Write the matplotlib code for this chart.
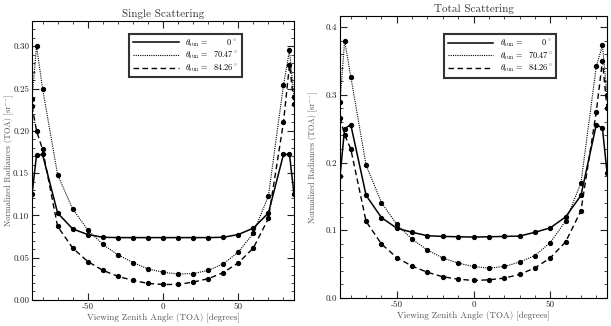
import numpy as np
import matplotlib.pyplot as plt

plt.rcParams['font.family'] = ['cmr10', 'DejaVu Serif']
plt.rcParams['mathtext.fontset'] = 'cm'
plt.rcParams['axes.unicode_minus'] = False

# viewing zenith angles (deg)
vza = [-87, -84, -80, -70, -60, -50, -40, -30, -20, -10, 0, 10, 20, 30, 40, 50, 60, 70, 80, 84, 87]

# single scattering
ss_0 = [0.125, 0.171, 0.172, 0.1028, 0.084, 0.0773, 0.0741, 0.0737, 0.0737, 0.0737, 0.0737,
        0.0737, 0.0737, 0.0737, 0.0741, 0.0773, 0.0849, 0.1028, 0.172, 0.172, 0.125]
ss_70 = [0.238, 0.300, 0.250, 0.148, 0.1076, 0.0829, 0.0657, 0.0534, 0.0442, 0.0367, 0.0327,
         0.0307, 0.0311, 0.035, 0.0426, 0.0566, 0.0789, 0.123, 0.254, 0.295, 0.240]
ss_84 = [0.229, 0.200, 0.178, 0.0869, 0.0614, 0.0454, 0.035, 0.0279, 0.0231, 0.0195, 0.0183,
         0.0183, 0.0211, 0.0251, 0.0323, 0.0438, 0.0614, 0.0964, 0.210, 0.278, 0.232]

# total scattering
ts_0 = [0.180, 0.250, 0.256, 0.1515, 0.1187, 0.103, 0.097, 0.0919, 0.0909, 0.0904, 0.0899,
        0.0904, 0.0909, 0.0914, 0.097, 0.1035, 0.1197, 0.1515, 0.256, 0.251, 0.185]
ts_70 = [0.290, 0.380, 0.327, 0.196, 0.141, 0.1086, 0.0869, 0.0707, 0.059, 0.0515, 0.0465,
         0.044, 0.0465, 0.053, 0.0626, 0.0818, 0.1136, 0.170, 0.342, 0.373, 0.300]
ts_84 = [0.266, 0.241, 0.220, 0.113, 0.0798, 0.0596, 0.047, 0.0379, 0.0313, 0.0278, 0.0258,
         0.0268, 0.0293, 0.0348, 0.0444, 0.0591, 0.0828, 0.1288, 0.275, 0.350, 0.280]

labels = [r'$\theta_{\rm sun}$ =       0$^\circ$',
          r'$\theta_{\rm sun}$ =  70.47$^\circ$',
          r'$\theta_{\rm sun}$ =  84.26$^\circ$']
styles = ['-', (0, (1, 1)), (0, (4, 2.5))]
widths = [1.1, 0.8, 1.0]

fig = plt.figure(figsize=(6.11, 3.26), dpi=100)
ax1 = fig.add_axes([0.0524, 0.08, 0.4288, 0.856])
ax2 = fig.add_axes([0.5565, 0.086, 0.437, 0.865])


def draw(ax, series, title, ylim, ymaj, ymin, fmt, leg_anchor, ylab_x):
    for y, ls, lw, lab in zip(series, styles, widths, labels):
        ax.plot(vza, y, linestyle=ls, color='black', lw=lw,
                marker='o', ms=2.8, label=lab)
    ax.set_xlim(-87, 87)
    ax.set_ylim(*ylim)
    ax.set_xticks([-50, 0, 50])
    ax.set_xticks(np.arange(-80, 81, 10), minor=True)
    ax.set_yticks(np.arange(0, ylim[1] + 1e-9, ymaj))
    ax.set_yticks(np.arange(0, ylim[1] + 1e-9, ymin), minor=True)
    ax.yaxis.set_major_formatter(plt.FormatStrFormatter(fmt))
    ax.tick_params(which='both', direction='in', top=True, right=True, labelsize=6.5,
                   colors='#222222', pad=2)
    ax.tick_params(which='major', length=5)
    ax.tick_params(which='minor', length=2.5)
    ax.set_title(title, fontsize=8, color='#333333', pad=3)
    ax.set_xlabel('Viewing Zenith Angle (TOA) [degrees]', fontsize=6.5, color='#555555', labelpad=1)
    ax.set_ylabel('Normalized Radiances (TOA) [sr\u207b\u00b9]', fontsize=6, color='#555555')
    ax.yaxis.set_label_coords(ylab_x, 0.5)
    leg = ax.legend(loc='upper left', bbox_to_anchor=leg_anchor, fontsize=6, frameon=True,
                    fancybox=False, handlelength=5.5, borderpad=0.4, labelspacing=0.15,
                    edgecolor='black')
    leg.get_frame().set_linewidth(1.5)
    for h in leg.get_lines():
        h.set_marker('')


draw(ax1, [ss_0, ss_70, ss_84], 'Single Scattering', (0, 0.33), 0.05, 0.01, '%.2f',
     (0.356, 0.968), -0.072)
draw(ax2, [ts_0, ts_70, ts_84], 'Total Scattering', (0, 0.4165), 0.1, 0.02, '%.1f',
     (0.375, 0.95), -0.085)

fig.savefig('out.png', dpi=100)
